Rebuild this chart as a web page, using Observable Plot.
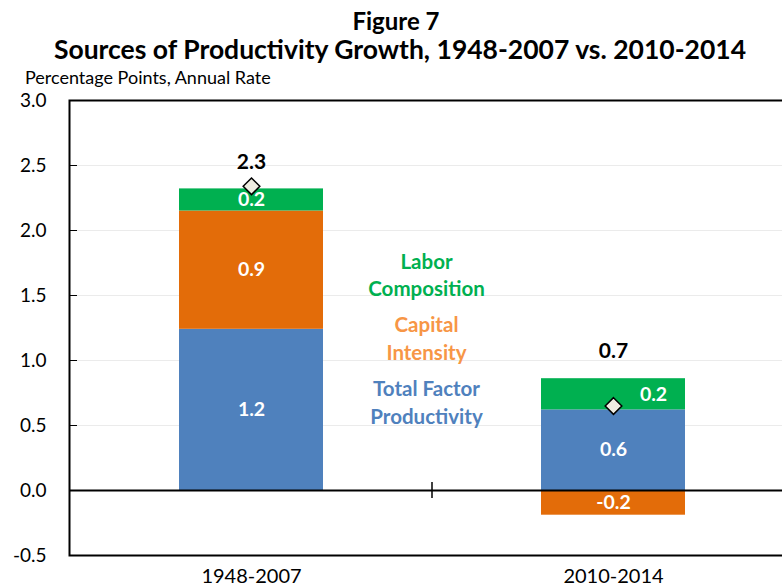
<!DOCTYPE html>
<html>
<head>
<meta charset="utf-8">
<script src="https://cdn.jsdelivr.net/npm/d3@7"></script>
<script src="https://cdn.jsdelivr.net/npm/@observablehq/plot@0.6"></script>
<style>
  html, body { margin: 0; padding: 0; background: #fff; overflow: hidden; }
  body { width: 782px; height: 588px; position: relative; font-family: Lato, "Open Sans", sans-serif; }
  .t { position: absolute; width: 782px; text-align: center; font-weight: 700; color: #000; white-space: nowrap; }
  #fig { left: 5px; top: 9px; font-size: 24px; line-height: 24px; }
  #title { left: 9px; top: 36px; font-size: 26.5px; line-height: 26.5px; }
  #ylab { position: absolute; left: 25px; top: 68px; font-size: 18px; line-height: 18px; color: #000; white-space: nowrap; }
  #chart { position: absolute; left: 0; top: 88px; width: 794px; }
  #chart svg { max-width: none !important; }
</style>
</head>
<body>
<div class="t" id="fig">Figure 7</div>
<div class="t" id="title">Sources of Productivity Growth, 1948-2007 vs. 2010-2014</div>
<div id="ylab">Percentage Points, Annual Rate</div>
<div id="chart"></div>
<script>
// Data
const periods = ["1948-2007", "2010-2014"];
const components = ["Total Factor Productivity", "Capital Intensity", "Labor Composition"];
const tfp = [1.24, 0.62];
const capital = [0.91, -0.19];
const labor = [0.17, 0.24];
const totals = [2.34, 0.65];
const totalLabels = ["2.3", "0.7"];
const tfpLabels = ["1.2", "0.6"];
const capitalLabels = ["0.9", "-0.2"];
const laborLabels = ["0.2", "0.2"];
const yTicks = [-0.5, 0, 0.5, 1.0, 1.5, 2.0, 2.5, 3.0];
// in-plot legend text, one entry per line, top to bottom
const legendComp = ["Labor Composition", "Labor Composition", "Capital Intensity", "Capital Intensity", "Total Factor Productivity", "Total Factor Productivity"];
const legendText = ["Labor", "Composition", "Capital", "Intensity", "Total Factor", "Productivity"];
const legendValue = [1.755, 1.545, 1.27, 1.055, 0.775, 0.56];

const colors = {
  "Total Factor Productivity": "#4F81BD",
  "Capital Intensity": "#E36C09",
  "Labor Composition": "#00B050"
};
const textColors = {
  "Total Factor Productivity": "#4F81BD",
  "Capital Intensity": "#F79646",
  "Labor Composition": "#00B050"
};

// Build stacked segments
const segs = [];
periods.forEach((p, i) => {
  let pos = 0, neg = 0;
  const add = (comp, v, lab) => {
    let y1, y2;
    if (v >= 0) { y1 = pos; y2 = pos + v; pos = y2; } else { y1 = neg; y2 = neg + v; neg = y2; }
    segs.push({period: p, comp, y1, y2, mid: (y1 + y2) / 2, label: lab, i});
  };
  add(components[0], tfp[i], tfpLabels[i]);
  add(components[1], capital[i], capitalLabels[i]);
  add(components[2], labor[i], laborLabels[i]);
});
const totalData = periods.map((p, i) => ({
  period: p, total: totals[i], label: totalLabels[i],
  top: Math.max(...segs.filter(s => s.period === p).map(s => Math.max(s.y1, s.y2)))
}));
const legendData = legendText.map((line, k) => ({period: periods[0], comp: legendComp[k], line, y: legendValue[k]}));

const font = "Lato, 'Open Sans', sans-serif";
const isShifted = s => s.i === 1 && s.comp === "Labor Composition";

const chart = Plot.plot({
  width: 794,
  height: 500,
  marginLeft: 69,
  marginRight: 0,
  marginTop: 12,
  marginBottom: 33,
  style: {fontFamily: font, fontSize: "19px", color: "#000", background: "transparent", overflow: "visible", maxWidth: "none"},
  x: {domain: periods, paddingInner: 0.603, paddingOuter: 0.3015, label: null},
  y: {domain: [-0.5, 3.0], label: null},
  marks: [
    Plot.gridY(yTicks.filter(d => d > -0.5 && d < 3), {stroke: "#ebebeb", strokeOpacity: 1, strokeWidth: 1}),
    Plot.rectY(segs, {x: "period", y1: "y1", y2: "y2", fill: d => colors[d.comp]}),
    Plot.ruleY([0], {stroke: "#000", strokeWidth: 2}),
    // category separator tick at zero line
    (index, scales, values, dims) => {
      const xs = scales.x;
      const step = xs.step ? xs.step() : (dims.width - dims.marginLeft - dims.marginRight) / periods.length;
      const bw = xs.bandwidth ? xs.bandwidth() : 0;
      const xb = xs(periods[1]) - (step - bw) / 2;
      const y0 = scales.y(0);
      return d3.create("svg:line")
        .attr("x1", xb).attr("x2", xb)
        .attr("y1", y0 - 8).attr("y2", y0 + 8)
        .attr("stroke", "#000").attr("stroke-width", 1.5)
        .node();
    },
    Plot.frame({stroke: "#000", strokeWidth: 2}),
    // segment labels
    Plot.text(segs.filter(s => !isShifted(s)), {
      x: "period", y: "mid", text: "label", fill: "#fff", fontWeight: 700, fontSize: 19.5
    }),
    Plot.text(segs.filter(isShifted), {
      x: "period", y: "mid", text: "label", fill: "#fff", fontWeight: 700, fontSize: 19.5, dx: 40
    }),
    // total markers
    Plot.dot(totalData, {x: "period", y: "total", symbol: "diamond2", r: 7.5, fill: "#EEECE1", stroke: "#000", strokeWidth: 1.5}),
    Plot.text(totalData, {x: "period", y: "top", text: "label", fontWeight: 700, fontSize: 21, fill: "#000", dy: -27}),
    // in-plot legend
    Plot.text(legendData, {
      x: "period", y: "y", text: "line",
      fill: d => textColors[d.comp], fontWeight: 700, fontSize: 20.5,
      dx: 175
    }),
    Plot.axisY({ticks: yTicks, tickSize: -8, tickPadding: 31, tickFormat: d => d.toFixed(1), fontSize: 19, stroke: "#000"}),
    Plot.axisX({tickSize: 0, tickPadding: 13, fontSize: 20})
  ]
});
document.getElementById("chart").appendChild(chart);
</script>
</body>
</html>
